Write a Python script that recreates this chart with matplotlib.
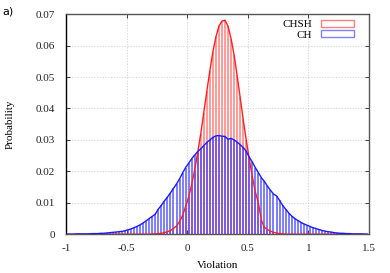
import numpy as np
import matplotlib
matplotlib.use("Agg")
import matplotlib.pyplot as plt
from matplotlib.patches import Patch

plt.rcParams['font.family'] = ['Liberation Serif', 'DejaVu Serif']
plt.rcParams['axes.unicode_minus'] = False

# histogram bins: width 0.025 from -1 to 1.5
bin_lo = -1.0
bin_width = 0.025

chsh = [
    0, 0, 0, 0, 0, 0, 0, 0, 0, 0,
    0, 0, 0, 0, 0, 0, 0, 0, 0, 0,
    0, 0, 0, 0, 0, 0, 0, 0, 0.0001, 0.0001,
    0.0002, 0.0003, 0.0005, 0.0008, 0.0012, 0.0018, 0.0027, 0.0040, 0.0060, 0.0088,
    0.0118, 0.0158, 0.0205, 0.0260, 0.0320, 0.0387, 0.0455, 0.0520, 0.0580, 0.0628,
    0.0662, 0.0678, 0.0681, 0.0662, 0.0622, 0.0570, 0.0505, 0.0435, 0.0365, 0.0300,
    0.0240, 0.0184, 0.0135, 0.0100, 0.0045, 0.0022, 0.0015, 0.0010, 0.0006, 0.0004,
    0.0002, 0.0001, 0, 0, 0, 0, 0, 0, 0, 0,
    0, 0, 0, 0, 0, 0, 0, 0, 0, 0,
    0, 0, 0, 0, 0, 0, 0, 0, 0, 0,
]

ch = [
    0, 0, 0, 0.0001, 0.0001, 0.0001, 0.0001, 0.0001, 0.0002, 0.0002,
    0.0002, 0.0003, 0.0003, 0.0004, 0.0005, 0.0006, 0.0007, 0.0008, 0.0009, 0.0011,
    0.0014, 0.0017, 0.0021, 0.0025, 0.0030, 0.0036, 0.0043, 0.0050, 0.0057, 0.0064,
    0.0080, 0.0092, 0.0106, 0.0118, 0.0132, 0.0146, 0.0160, 0.0176, 0.0195, 0.0212,
    0.0226, 0.0240, 0.0252, 0.0263, 0.0272, 0.0282, 0.0292, 0.0300, 0.0308, 0.0313,
    0.0314, 0.0312, 0.0311, 0.0302, 0.0305, 0.0300, 0.0293, 0.0285, 0.0276, 0.0264,
    0.0245, 0.0230, 0.0212, 0.0196, 0.0180, 0.0168, 0.0153, 0.0140, 0.0128, 0.0122,
    0.0108, 0.0092, 0.0080, 0.0068, 0.0058, 0.0050, 0.0044, 0.0038, 0.0033, 0.0029,
    0.0025, 0.0021, 0.0018, 0.0015, 0.0012, 0.0010, 0.0008, 0.0007, 0.0005, 0.0004,
    0.0003, 0.0003, 0.0002, 0.0002, 0.0001, 0.0001, 0.0001, 0.0001, 0, 0,
]

series_names = ["CHSH", "CH"]
xticks = [-1, -0.5, 0, 0.5, 1, 1.5]
xtick_labels = ["-1", "-0.5", "0", "0.5", "1", "1.5"]
yticks = [0, 0.01, 0.02, 0.03, 0.04, 0.05, 0.06, 0.07]
ytick_labels = ["0", "0.01", "0.02", "0.03", "0.04", "0.05", "0.06", "0.07"]

n = len(chsh)
centers = bin_lo + bin_width * (np.arange(n) + 0.5)

fig = plt.figure(figsize=(3.9, 2.73), dpi=100)
ax = fig.add_axes([0.169, 0.142, 0.777, 0.806])

red_bar = (1.0, 0.5, 0.5)
red_line = (1.0, 0.12, 0.12)
blue_bar = (0.2, 0.2, 1.0, 0.8)
blue_line = (0.1, 0.1, 1.0)

# bars as thin vertical strokes, curve on top
ax.vlines(centers, 0, chsh, color=red_bar, linewidth=1.1, zorder=2)
ax.plot(centers, chsh, color=red_line, linewidth=1.0, zorder=4)
ax.vlines(centers, 0, ch, color=blue_bar, linewidth=1.1, zorder=3)
ax.plot(centers, ch, color=blue_line, linewidth=1.0, zorder=5)

ax.set_xlim(-1, 1.5)
ax.set_ylim(0, 0.07)
ax.set_xticks(xticks)
ax.set_xticklabels(xtick_labels)
ax.set_yticks(yticks)
ax.set_yticklabels(ytick_labels)
ax.tick_params(direction='in', top=True, right=True, length=3, width=0.6, labelsize=8, colors='#222222')
ax.tick_params(axis='x', pad=7)
ax.tick_params(axis='y', pad=8)
ax.grid(True, color='#cccccc', linestyle=(0, (2, 2)), linewidth=0.5, zorder=0)
ax.set_axisbelow(True)
for s in ax.spines.values():
    s.set_color('#555555')
    s.set_linewidth(1.0)
ax.spines['left'].set_color('black')

ax.set_xlabel("Violation", fontsize=8, labelpad=6)
ax.set_ylabel("Probability", fontsize=8, labelpad=15)

handles = [Patch(facecolor='none', edgecolor=red_bar, linewidth=1.0),
           Patch(facecolor='none', edgecolor=(0.5, 0.5, 1.0), linewidth=1.0)]
ax.legend(handles, series_names, loc='upper right', frameon=False, markerfirst=False,
          fontsize=8, handlelength=3.0, handleheight=0.6, labelspacing=0.1,
          borderaxespad=0.3, borderpad=0.2, handletextpad=0.8, alignment='right',
          bbox_to_anchor=(0.97, 1.0))

fig.text(0.005, 0.975, "a)", fontsize=8, family='DejaVu Sans', va='top', ha='left')

fig.savefig("out.png", dpi=100)
